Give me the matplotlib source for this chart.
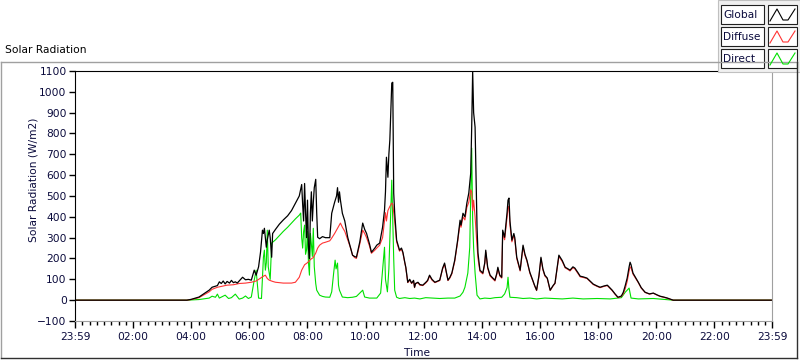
import numpy as np
import matplotlib.pyplot as plt
from matplotlib.patches import Rectangle
from matplotlib.lines import Line2D
from matplotlib.ticker import FixedLocator, MultipleLocator

# ---- data (minutes after midnight, W/m2) ----
global_min = [0, 231, 240, 256, 277, 283, 294, 298, 302, 306, 310, 314, 319, 323, 327, 331, 335, 339,
              346, 352, 358, 364, 370, 374, 379, 383, 387, 389, 391, 393, 395, 397, 401, 403, 406, 408,
              414, 422, 430, 439, 447, 455, 463, 468, 470, 472, 474, 476, 478, 480, 482, 484, 486, 488,
              490, 492, 494, 497, 499, 501, 505, 511, 517, 526, 530, 536, 540, 542, 544, 546, 548, 552,
              557, 563, 569, 573, 577, 581, 588, 594, 598, 602, 608, 612, 619, 623, 629, 635, 639, 641,
              643, 646, 648, 650, 652, 654, 656, 658, 660, 664, 670, 674, 677, 681, 683, 687, 691, 695,
              699, 701, 703, 708, 712, 718, 724, 728, 732, 737, 743, 747, 753, 759, 763, 768, 770, 774,
              778, 784, 790, 795, 797, 801, 805, 809, 813, 817, 819, 821, 823, 826, 828, 830, 832, 836,
              842, 846, 848, 850, 852, 857, 861, 867, 871, 873, 877, 881, 883, 887, 892, 894, 896, 898,
              902, 906, 908, 912, 919, 925, 929, 933, 939, 945, 949, 953, 958, 962, 966, 970, 975, 981,
              987, 991, 995, 999, 1006, 1012, 1018, 1022, 1028, 1032, 1039, 1043, 1049, 1057, 1064,
              1070, 1078, 1084, 1092, 1099, 1105, 1109, 1115, 1121, 1128, 1132, 1136, 1140, 1144, 1146,
              1148, 1152, 1157, 1163, 1169, 1177, 1186, 1194, 1202, 1208, 1217, 1223, 1229, 1235, 1439]
global_val = [0, 0, 4, 15, 48, 62, 70, 88, 80, 92, 78, 90, 82, 95, 84, 88, 82, 92,
              110, 98, 100, 96, 144, 120, 160, 230, 336, 320, 345, 300, 254, 290, 336, 300, 206, 320,
              340, 365, 385, 405, 430, 465, 500, 555, 460, 380, 560, 420, 300, 480, 250, 200, 420, 520,
              380, 470, 540, 580, 420, 302, 295, 305, 300, 300, 417, 470, 500, 540, 470, 520, 480, 417,
              380, 302, 250, 216, 210, 206, 280, 370, 340, 320, 270, 230, 250, 264, 274, 350, 432, 520,
              686, 590, 700, 768, 900, 1042, 1046, 514, 420, 288, 240, 250, 230, 180, 158, 86, 100, 82,
              95, 62, 80, 86, 75, 72, 85, 95, 120, 100, 86, 90, 96, 154, 178, 120, 96, 110,
              130, 192, 288, 384, 360, 417, 400, 466, 514, 610, 830, 1100, 900, 830, 600, 350, 226, 144,
              130, 180, 240, 200, 158, 120, 110, 96, 130, 158, 120, 110, 336, 302, 420, 480, 490, 380,
              288, 320, 300, 206, 144, 264, 220, 192, 134, 96, 70, 48, 120, 206, 150, 120, 106, 48,
              70, 82, 150, 216, 190, 158, 150, 144, 160, 154, 130, 115, 112, 106, 90,
              77, 68, 62, 68, 72, 58, 48, 30, 14, 20, 38, 70, 106, 160, 182,
              170, 130, 110, 86, 60, 38, 30, 34, 25, 19, 14, 10, 5, 0, 0]

diffuse_min = [0, 231, 240, 256, 277, 283, 294, 302, 314, 327, 339, 352, 364, 374, 383, 389, 393, 397,
               401, 408, 414, 430, 447, 455, 463, 468, 474, 480, 486, 492, 497, 501, 505, 511, 517, 526,
               530, 536, 542, 548, 552, 557, 563, 569, 573, 577, 581, 588, 594, 598, 602, 608, 612, 619,
               623, 629, 635, 639, 641, 643, 646, 650, 654, 656, 658, 660, 664, 670, 674, 677, 681, 683,
               687, 691, 695, 699, 701, 703, 708, 712, 718, 724, 728, 732, 737, 743, 747, 753, 759, 763,
               768, 770, 774, 778, 784, 790, 795, 797, 801, 805, 809, 813, 817, 819, 821, 823, 826, 828,
               830, 832, 836, 842, 846, 848, 850, 852, 857, 861, 867, 871, 873, 877, 881, 883, 887, 892,
               894, 896, 898, 902, 906, 908, 912, 919, 925, 929, 933, 939, 945, 949, 953, 958, 962, 966,
               970, 975, 981, 987, 991, 995, 999, 1006, 1012, 1018, 1022, 1028, 1032, 1039, 1043, 1049,
               1057, 1064, 1070, 1078, 1084, 1092, 1099, 1105, 1109, 1115, 1121, 1128, 1132, 1136, 1140,
               1144, 1146, 1148, 1152, 1157, 1163, 1169, 1177, 1186, 1194, 1202, 1208, 1217, 1223, 1229,
               1235, 1439]
diffuse_val = [0, 0, 3, 12, 40, 52, 62, 66, 72, 74, 80, 82, 86, 92, 106, 115, 120, 104,
               96, 90, 86, 82, 82, 86, 110, 144, 170, 180, 195, 205, 226, 250, 264, 274, 278, 285,
               298, 320, 345, 370, 350, 330, 290, 250, 216, 205, 200, 270, 336, 320, 300, 260, 225, 240,
               250, 264, 300, 380, 420, 380, 430, 450, 466, 460, 420, 380, 280, 235, 245, 225, 176, 154,
               84, 96, 80, 92, 60, 78, 84, 72, 70, 82, 92, 116, 96, 84, 88, 94, 150, 172,
               116, 94, 106, 126, 186, 280, 370, 350, 400, 385, 445, 470, 530, 520, 430, 480, 400, 330,
               260, 200, 138, 126, 175, 230, 195, 152, 116, 106, 92, 126, 152, 116, 106, 320, 290, 400,
               440, 450, 360, 280, 310, 290, 200, 140, 255, 214, 188, 130, 94, 68, 46, 116, 200, 146,
               116, 104, 46, 68, 80, 145, 210, 185, 155, 147, 140, 156, 150, 126, 112, 109,
               104, 88, 75, 66, 60, 66, 70, 56, 46, 28, 12, 18, 30, 55, 90,
               140, 160, 155, 125, 106, 84, 58, 37, 29, 33, 24, 18, 13, 9, 4,
               0, 0]

direct_min = [0, 231, 256, 277, 283, 290, 294, 298, 310, 317, 323, 331, 339, 346, 352, 358, 364, 370,
              374, 377, 379, 385, 389, 391, 393, 395, 397, 399, 403, 406, 414, 422, 430, 439, 447, 455,
              463, 466, 468, 470, 472, 474, 476, 478, 480, 482, 484, 486, 488, 490, 492, 494, 497, 499,
              505, 511, 517, 526, 530, 534, 537, 539, 542, 544, 546, 552, 563, 573, 581, 588, 594, 598,
              608, 623, 631, 635, 639, 641, 645, 648, 652, 654, 656, 658, 660, 664, 670, 681, 691, 701,
              712, 724, 737, 753, 770, 784, 795, 801, 805, 811, 815, 817, 819, 821, 823, 826, 830, 836,
              846, 857, 867, 881, 887, 892, 894, 896, 898, 912, 925, 939, 953, 970, 987, 1006, 1028,
              1049, 1078, 1105, 1128, 1136, 1144, 1148, 1163, 1194, 1235, 1439]
direct_val = [0, 0, 3, 10, 19, 14, 29, 10, 24, 8, 12, 29, 5, 10, 20, 8, 15, 96,
              144, 60, 10, 8, 206, 240, 144, 180, 336, 160, 100, 274, 290, 310, 330, 350, 370, 390,
              408, 418, 300, 250, 330, 360, 220, 240, 330, 180, 120, 320, 270, 210, 345, 160, 80, 48,
              24, 18, 15, 14, 40, 130, 192, 150, 178, 72, 48, 15, 12, 14, 18, 34, 48, 15,
              10, 10, 34, 144, 254, 100, 40, 150, 430, 576, 384, 200, 48, 14, 8, 12, 8, 10,
              6, 12, 10, 8, 10, 10, 20, 38, 62, 130, 254, 514, 730, 384, 250, 130, 24, 6,
              10, 8, 12, 14, 30, 60, 110, 50, 14, 12, 8, 10, 6, 10, 8, 6, 10,
              6, 8, 6, 12, 38, 58, 10, 6, 8, 0, 0]

tick_minutes = [0, 120, 240, 360, 480, 600, 720, 840, 960, 1080, 1200, 1320, 1439]
tick_labels = ['23:59', '02:00', '04:00', '06:00', '08:00', '10:00', '12:00',
               '14:00', '16:00', '18:00', '20:00', '22:00', '23:59']
y_ticks = list(range(-100, 1101, 100))

W, H = 800, 361
txt_col = '#0a0a3c'
fs = 7.7
plt.rcParams['font.family'] = ['DejaVu Sans']


def fx(x):
  return x / W


def fy(y):
  return 1 - y / H


fig = plt.figure(figsize=(W / 100, H / 100), dpi=100)
fig.patch.set_facecolor('white')

# outer sunken frame
fig.add_artist(Line2D([fx(1), fx(1)], [fy(358), fy(62)], color='#a0a0a0', lw=1, transform=fig.transFigure))
fig.add_artist(Line2D([fx(1), fx(797)], [fy(62), fy(62)], color='#a0a0a0', lw=1, transform=fig.transFigure))
fig.add_artist(Line2D([fx(1), fx(797)], [fy(358), fy(358)], color='#303030', lw=1, transform=fig.transFigure))
fig.add_artist(Line2D([fx(797), fx(797)], [fy(358), fy(62)], color='#303030', lw=1, transform=fig.transFigure))

ax = fig.add_axes([fx(75), fy(321), (772 - 75) / W, 250 / H])
ax.plot(direct_min, direct_val, color='#00e000', lw=0.8)
ax.plot(diffuse_min, diffuse_val, color='#ff3333', lw=0.8)
ax.plot(global_min, global_val, color='black', lw=0.9)

ax.set_xlim(0, 1439)
ax.set_ylim(-100, 1100)
ax.xaxis.set_major_locator(FixedLocator(tick_minutes))
ax.set_xticklabels(tick_labels)
ax.xaxis.set_minor_locator(MultipleLocator(15))
ax.set_yticks(y_ticks)
ax.tick_params(axis='both', which='major', labelsize=fs, labelcolor=txt_col, color='black', width=1)
ax.tick_params(axis='x', which='major', length=5, pad=3)
ax.tick_params(axis='x', which='minor', length=3, width=1, color='black')
ax.tick_params(axis='y', which='major', length=4, pad=2)
for side in ('left', 'top'):
  ax.spines[side].set_color('black')
for side in ('right', 'bottom'):
  ax.spines[side].set_color('#a0a0a0')

fig.text(fx(5), fy(50), 'Solar Radiation', fontsize=fs, color='black', va='center', ha='left')
fig.text(fx(33), fy(180), 'Solar Radiation (W/m2)', fontsize=fs, color=txt_col,
         rotation=90, va='center', ha='center')
fig.text(fx(417), fy(353), 'Time', fontsize=fs, color=txt_col, va='center', ha='center')

# legend panel
fig.add_artist(Rectangle((fx(718), fy(72)), fx(82), 72 / H, facecolor='#f0f0f0',
                         edgecolor='#c0c0c0', lw=0.8, transform=fig.transFigure))
legend_items = [('Global', 'black'), ('Diffuse', '#ff3333'), ('Direct', '#00e000')]
for i, (name, col) in enumerate(legend_items):
  top = 5 + i * 22
  fig.add_artist(Rectangle((fx(721), fy(top + 19)), 43 / W, 19 / H, facecolor='white',
                           edgecolor='#202020', lw=0.8, transform=fig.transFigure))
  fig.text(fx(723), fy(top + 9.5), name, fontsize=fs, color=txt_col, va='center', ha='left')
  fig.add_artist(Rectangle((fx(768), fy(top + 19)), 29 / W, 19 / H, facecolor='white',
                           edgecolor='#202020', lw=0.8, transform=fig.transFigure))
  sx = [770, 777, 783, 788, 795]
  sy = [top + 16, top + 4, top + 15, top + 15, top + 4]
  fig.add_artist(Line2D([fx(v) for v in sx], [fy(v) for v in sy], color=col, lw=0.8,
                        transform=fig.transFigure))

fig.savefig('out.png', dpi=100)
